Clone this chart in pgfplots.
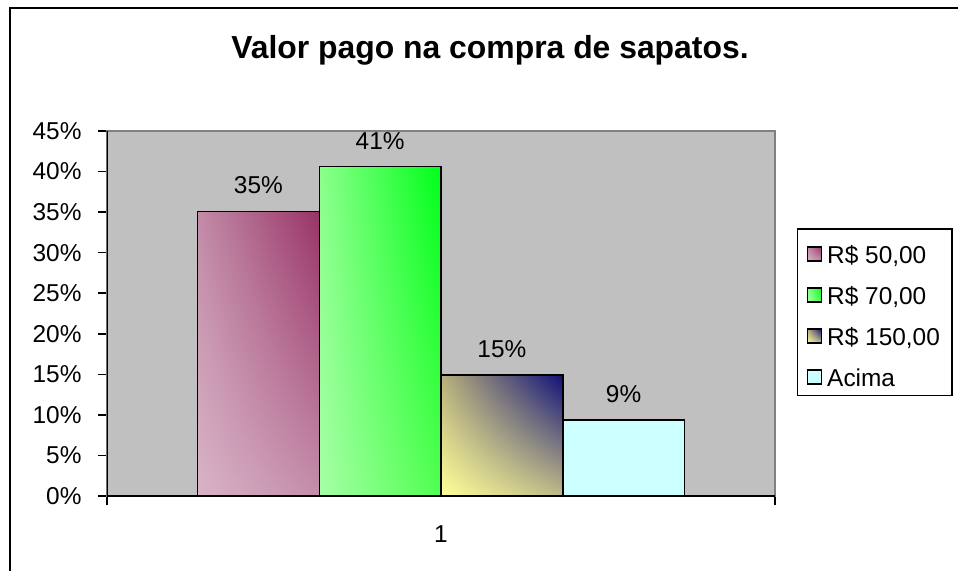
\documentclass[border=0pt]{standalone}
\usepackage{fontspec}
\setmainfont{Liberation Sans}
\usepackage{pgfplots}
\pgfplotsset{compat=1.18}
\usetikzlibrary{shadings}
\definecolor{plotgray}{HTML}{C0C0C0}
\definecolor{pinkBL}{HTML}{D9B3C7}
\definecolor{pinkTL}{HTML}{C28CA8}
\definecolor{pinkBR}{HTML}{C48EAB}
\definecolor{pinkTR}{HTML}{993366}
\definecolor{grBL}{HTML}{A6FFA6}
\definecolor{grTL}{HTML}{8CFF8C}
\definecolor{grBR}{HTML}{50FF50}
\definecolor{grTR}{HTML}{00FF1A}
\definecolor{ylBL}{HTML}{FFFF99}
\definecolor{ylTL}{HTML}{B8B07C}
\definecolor{ylBR}{HTML}{C0BA86}
\definecolor{ylTR}{HTML}{10107A}
\definecolor{cyanbar}{HTML}{CCFFFF}
\newcommand{\bodyfont}{\fontsize{24.5}{28}\selectfont}
\begin{document}
\begin{tikzpicture}
\path[use as bounding box] (-107bp,-75bp) rectangle (851bp,496bp);
\clip (-107bp,-75bp) rectangle (851bp,496bp);
\draw[black, line width=2bp] (-97bp,-95bp) rectangle (883bp,488bp);
\node[font=\fontsize{32}{36}\selectfont\bfseries, anchor=base] at (383bp,437bp) {Valor pago na compra de sapatos.};
\begin{axis}[
  at={(0,0)}, anchor=south west,
  scale only axis, width=668bp, height=365bp,
  /pgf/number format/assume math mode=true,
  axis background/.style={fill=plotgray},
  axis line style={draw=black!50, line width=1.5bp},
  ybar, bar width=0.18226,
  xmin=-0.5, xmax=0.5, ymin=0, ymax=45,
  ytick={0,5,...,45},
  yticklabel={\pgfmathprintnumber{\tick}\%},
  xtick={-0.5,0.5}, xticklabels={},
  extra x ticks={0}, extra x tick labels={1},
  extra x tick style={major tick length=0pt, tick label style={yshift=-26bp}},
  tick align=outside, tickpos=left,
  major tick length=9bp,
  tick style={black, line width=1.5bp},
  tick label style={font=\bodyfont},
  yticklabel style={xshift=-13bp},
  nodes near coords={\pgfmathprintnumber[fixed,precision=0]{\pgfplotspointmeta}\%},
  every node near coord/.append style={font=\bodyfont, black, yshift=13bp},
  legend style={at={(axis description cs:1.0329,0.734)}, anchor=north west,
    draw=black, line width=1.5bp, fill=white, font=\bodyfont,
    inner xsep=9bp, inner ysep=6bp, row sep=9.5bp,
    nodes={inner xsep=3bp, inner ysep=3bp, text height=25.5bp, text depth=0bp},
    /tikz/every odd column/.append style={column sep=2bp}},
  legend cell align=left,
  mylegend/.style={legend image code/.code={\path[##1, draw=black, line width=1.5bp] (0bp,-10.5bp) rectangle (14bp,3.5bp);}},
]
\addplot[draw=black, line width=1.5bp, bar shift=-0.27339, mylegend,
  shading=bilinear interpolation, lower left=pinkBL, upper left=pinkTL, lower right=pinkBR, upper right=pinkTR]
  coordinates {(0,35.1)};
\addplot[draw=black, line width=1.5bp, bar shift=-0.09113, mylegend,
  shading=bilinear interpolation, lower left=grBL, upper left=grTL, lower right=grBR, upper right=grTR]
  coordinates {(0,40.6)};
\addplot[draw=black, line width=1.5bp, bar shift=0.09113, mylegend,
  shading=bilinear interpolation, lower left=ylBL, upper left=ylTL, lower right=ylBR, upper right=ylTR]
  coordinates {(0,14.9)};
\addplot[draw=black, line width=1.5bp, bar shift=0.27339, mylegend, fill=cyanbar]
  coordinates {(0,9.4)};
\legend{R\$ 50{,}00, R\$ 70{,}00, R\$ 150{,}00, Acima}
\draw[black, line width=1.5bp] (rel axis cs:0,0) -- (rel axis cs:0,1);
\draw[black, line width=2bp] (rel axis cs:0,0) -- (rel axis cs:1,0);
\end{axis}
\end{tikzpicture}
\end{document}
